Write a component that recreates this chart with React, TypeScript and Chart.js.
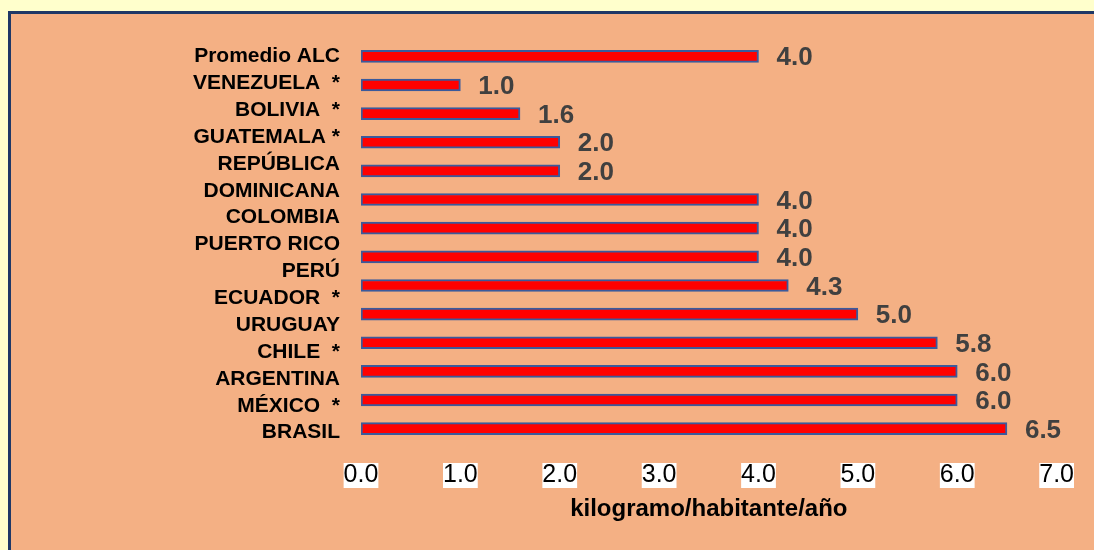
import React, { useEffect, useRef } from "react";
import { Chart, registerables } from "chart.js";

Chart.register(...registerables);

const categories: (string | string[])[] = [
  "Promedio ALC",
  "VENEZUELA  *",
  "BOLIVIA  *",
  "GUATEMALA *",
  ["REPÚBLICA", "DOMINICANA"],
  "COLOMBIA",
  "PUERTO RICO",
  "PERÚ",
  "ECUADOR  *",
  "URUGUAY",
  "CHILE  *",
  "ARGENTINA",
  "MÉXICO  *",
  "BRASIL",
];

const values: number[] = [4.0, 1.0, 1.6, 2.0, 2.0, 4.0, 4.0, 4.0, 4.3, 5.0, 5.8, 6.0, 6.0, 6.5];

const axisMin = 0;
const axisMax = 7;
const axisStep = 1;
const axisTitle = "kilogramo/habitante/año";

const FONT = "'Liberation Sans', Arial, Helvetica, sans-serif";

// Category labels: the lines are spread evenly over the span of the bars
const categoryLabelPlugin = {
  id: "categoryLabels",
  afterDatasetsDraw(chart: any) {
    const ctx = chart.ctx;
    const meta = chart.getDatasetMeta(0);
    const labels = chart.data.labels as (string | string[])[];
    const lines: string[] = [];
    labels.forEach((l) => {
      if (Array.isArray(l)) lines.push(...l);
      else lines.push(l);
    });
    const first = meta.data[0].y;
    const last = meta.data[meta.data.length - 1].y + 4;
    const step = (last - first) / (lines.length - 1);
    ctx.save();
    ctx.font = `bold 21px ${FONT}`;
    ctx.fillStyle = "#000000";
    ctx.textAlign = "right";
    ctx.textBaseline = "middle";
    const x = chart.chartArea.left - 21;
    lines.forEach((line, i) => {
      ctx.fillText(line, x, first + i * step);
    });
    ctx.restore();
  },
};

const valueLabelPlugin = {
  id: "valueLabels",
  afterDatasetsDraw(chart: any) {
    const ctx = chart.ctx;
    const meta = chart.getDatasetMeta(0);
    ctx.save();
    ctx.font = `bold 26px ${FONT}`;
    ctx.fillStyle = "#404040";
    ctx.textAlign = "left";
    ctx.textBaseline = "middle";
    meta.data.forEach((bar: any, i: number) => {
      const v = chart.data.datasets[0].data[i] as number;
      ctx.fillText(v.toFixed(1), bar.x + 18, bar.y + 2);
    });
    ctx.restore();
  },
};

export default function App() {
  const canvasRef = useRef<HTMLCanvasElement | null>(null);

  useEffect(() => {
    if (!canvasRef.current) return;
    const chart = new Chart(canvasRef.current, {
      type: "bar",
      data: {
        labels: categories,
        datasets: [
          {
            data: values,
            backgroundColor: "#FF0000",
            borderColor: "#3A5A9C",
            borderWidth: 2,
            borderSkipped: false,
            barThickness: 12,
          },
        ],
      },
      options: {
        indexAxis: "y",
        responsive: false,
        animation: false,
        layout: { padding: { top: 42, right: 36, left: 0, bottom: 0 } },
        plugins: {
          legend: { display: false },
          tooltip: { enabled: false },
        },
        scales: {
          x: {
            min: axisMin,
            max: axisMax,
            grid: { display: false, drawTicks: false },
            border: { display: false },
            afterFit: (scale: any) => {
              scale.height = 107;
            },
            ticks: {
              stepSize: axisStep,
              padding: 20,
              color: "#000000",
              font: { family: FONT, size: 25, lineHeight: 1.0 },
              showLabelBackdrop: true,
              backdropColor: "#FFFFFF",
              backdropPadding: 0,
              maxRotation: 0,
              callback: (v: any) => Number(v).toFixed(1),
            },
            title: {
              display: true,
              text: axisTitle,
              color: "#000000",
              font: { family: FONT, size: 24, weight: "bold", lineHeight: 1.2 },
              padding: { top: 0, bottom: 26 },
            },
          },
          y: {
            grid: { display: false, drawTicks: false },
            border: { display: false },
            afterFit: (scale: any) => {
              scale.width = 361;
            },
            ticks: {
              display: false,
              autoSkip: false,
            },
          },
        },
      },
      plugins: [categoryLabelPlugin, valueLabelPlugin],
    });
    return () => chart.destroy();
  }, []);

  return (
    <div
      style={{
        position: "fixed",
        left: 0,
        top: 0,
        width: 1094,
        height: 550,
        overflow: "hidden",
        background: "#FFFFCC",
      }}
    >
      <div
        style={{
          position: "absolute",
          left: 8,
          top: 11,
          width: 1110,
          height: 560,
          background: "#F4B084",
          border: "3px solid #1F3866",
          boxSizing: "border-box",
        }}
      />
      <canvas
        ref={canvasRef}
        width={1094}
        height={550}
        style={{ position: "absolute", left: 0, top: 0 }}
      />
    </div>
  );
}
